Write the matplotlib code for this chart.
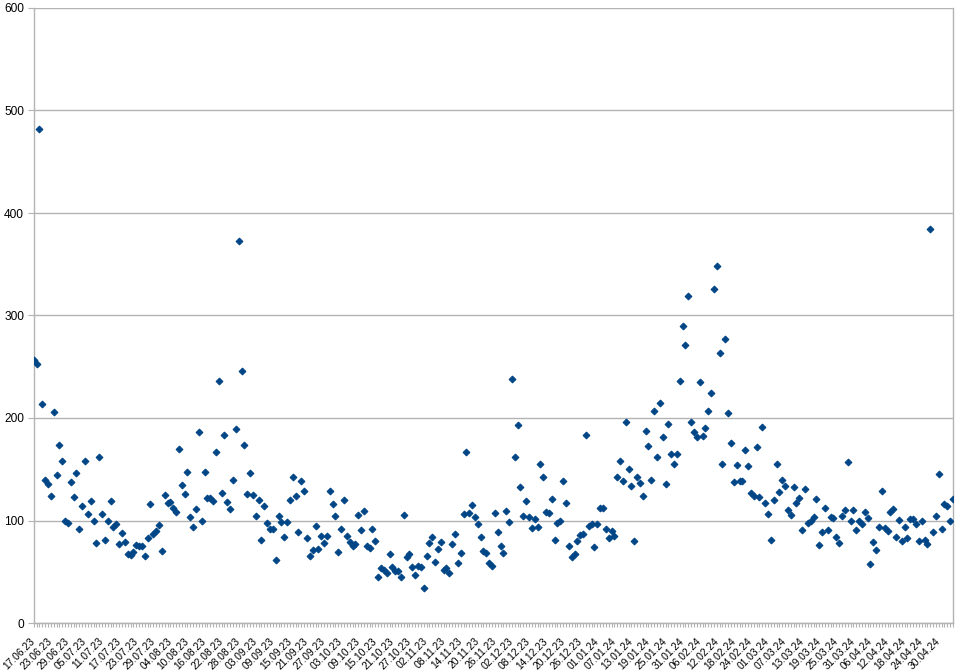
import numpy as np
import pandas as pd
import matplotlib
matplotlib.use('Agg')
import matplotlib.pyplot as plt
import matplotlib.dates as mdates

# --- DATA: one value per day, starting 17.06.23 ---
START_DATE = '2023-06-17'
values = [
    257, 253, 482, 214, 140, 136, 124, 206, 144, 174, 158, 100, 98, 138, 123, 146,
    92, 114, 158, 106, 119, 100, 78, 162, 106, 81, 100, 119, 94, 97, 77,
    88, 79, 67, 66, 69, 76, 75, 75, 65, 83, 116, 87, 90, 96, 70, 125, 117, 118,
    112, 108, 170, 135, 126, 147, 103, 94, 111, 186, 100, 147, 122,
    122, 119, 167, 236, 127, 183, 118, 111, 140, 189, 373, 246, 174, 126, 146,
    125, 104, 120, 81, 114, 98, 92, 92, 61, 104, 99, 84, 99, 120, 142, 124, 89,
    139, 129, 83, 65, 71, 95, 72, 85, 78, 85, 129, 116, 104, 69, 92, 120, 85,
    79, 75, 77, 105, 91, 109, 75, 73, 92, 80, 45, 54, 52, 49, 67,
    55, 51, 51, 45, 105, 64, 67, 55, 47, 56, 55, 34, 65, 78, 84, 60, 72, 79,
    52, 54, 49, 77, 87, 59, 68, 106, 167, 107, 115, 103, 97, 84,
    70, 68, 59, 56, 107, 89, 75, 68, 109, 99, 238, 162, 193, 133, 104, 119,
    103, 93, 101, 94, 155, 142, 108, 107, 121, 81, 98, 100, 139, 117, 75,
    64, 67, 80, 86, 87, 183, 95, 97, 74, 97, 112, 112, 92, 83, 90, 85, 142,
    158, 139, 196, 150, 134, 80, 142, 137, 124, 187, 173, 140, 207, 162, 215,
    181, 136, 194, 165, 155, 165, 236, 290, 271, 319, 196, 186, 181, 235, 182,
    190, 207, 224, 326, 348, 263, 155, 277, 205, 176, 138, 154, 139, 139, 169,
    153, 127, 124, 172,
    123, 191, 117, 106, 81, 120, 155, 128, 140, 134, 110, 105, 133, 117, 122,
    91, 131, 98, 100, 103, 121, 76, 89, 112, 91, 103, 102, 84, 78, 104, 110, 157,
    99.5, 110, 91, 99.5, 97, 108, 102, 58, 79, 71, 94, 129, 93, 90, 108, 111,
    84, 100.5, 80, 94, 83, 101, 101, 97, 80, 100, 81, 77, 384, 89, 104, 145,
    92, 116, 114, 100, 121,
]
Y_TICKS = [0, 100, 200, 300, 400, 500, 600]
LABEL_EVERY = 6  # days between date labels

GRID_COLOR = '#b3b3b3'
POINT_COLOR = '#004586'


def main():
    plt.rcParams['font.family'] = ['Liberation Sans', 'DejaVu Sans']

    dates = pd.date_range(START_DATE, periods=len(values), freq='D')
    x = mdates.date2num(dates.to_pydatetime())

    fig = plt.figure(figsize=(9.56, 6.72), dpi=100)
    ax = fig.add_axes([33.8 / 956, 1 - 623 / 672, (953 - 33.8) / 956, (623 - 8) / 672])

    ax.plot(x, values, linestyle='none', marker='D', markersize=3.5,
            color=POINT_COLOR, markeredgewidth=0.7, clip_on=True, zorder=3)

    ax.set_xlim(x[0], x[-1])
    ax.set_ylim(0, 600)

    # y axis
    ax.set_yticks(Y_TICKS)
    ax.yaxis.grid(True, color=GRID_COLOR, linewidth=1)
    ax.set_axisbelow(True)

    # x axis: a tick every day, a label every 6 days
    ax.set_xticks(x[::LABEL_EVERY])
    ax.set_xticklabels([d.strftime('%d.%m.%y') for d in dates[::LABEL_EVERY]],
                       rotation=45, ha='right', va='center', rotation_mode='anchor',
                       fontsize=7.4)
    ax.set_xticks(x, minor=True)

    ax.tick_params(axis='x', which='both', direction='out', length=3,
                   width=0.8, color=GRID_COLOR, pad=9)
    ax.tick_params(axis='y', which='major', direction='out', length=4,
                   width=0.8, color=GRID_COLOR, labelsize=8.6, pad=3)

    for side in ['left', 'bottom', 'right']:
        ax.spines[side].set_color(GRID_COLOR)
        ax.spines[side].set_linewidth(1)
    ax.spines['top'].set_visible(False)

    fig.savefig('out.png', dpi=100)


if __name__ == "__main__":
    main()
